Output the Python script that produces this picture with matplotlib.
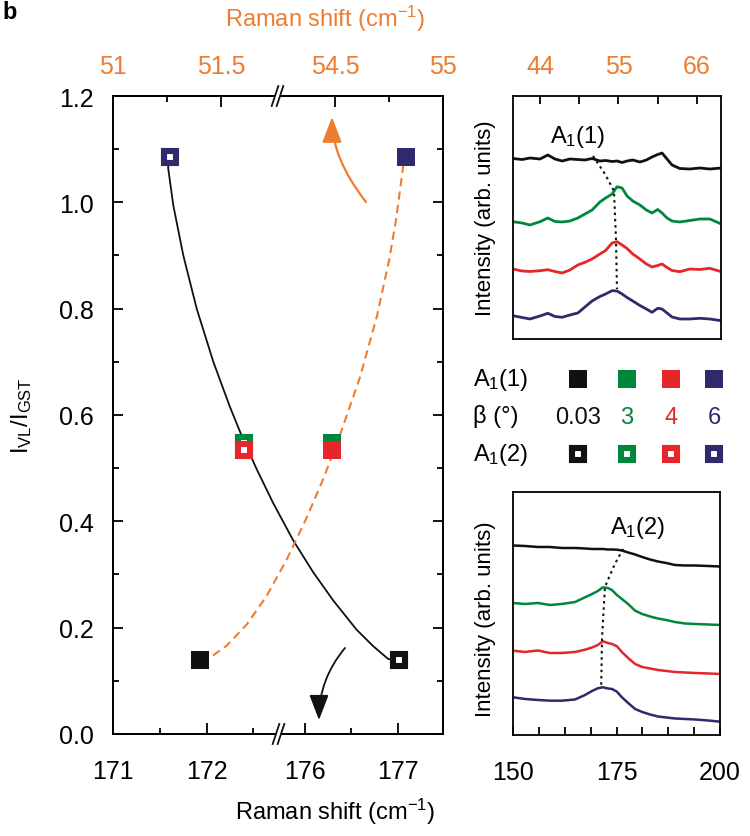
import numpy as np
import matplotlib
matplotlib.use('Agg')
import matplotlib.pyplot as plt
from matplotlib.ticker import FixedLocator, MultipleLocator
from matplotlib.patches import Polygon

plt.rcParams['font.family'] = ['Liberation Sans', 'DejaVu Sans']
plt.rcParams['mathtext.fontset'] = 'custom'
plt.rcParams['mathtext.rm'] = 'Liberation Sans'
plt.rcParams['mathtext.default'] = 'regular'
plt.rcParams['axes.linewidth'] = 1.3

FS = 17
TFS = 18  # tick labels
ORANGE = '#ee7d31'

# samples: tilt angle beta (deg) and colour used for it
beta = ['0.03', '3', '4', '6']
beta_colors = ['#111111', '#00873c', '#e5262a', '#2e2a6c']

# intensity ratio I_VL/I_GST per sample
ratio = [0.139, 0.547, 0.534, 1.086]
# peak positions (cm-1): A1(1) on the top axis, A1(2) on the bottom axis
a1_1_pos = [51.405, 54.486, 54.486, 54.829]
a1_2_pos = [177.005, 172.40, 172.40, 171.61]

# guide curves
guide_a1_2_x = [171.588, 171.591, 171.645, 171.752, 171.895, 172.073, 172.251, 172.376, 172.537,
                172.714, 175.878, 176.092, 176.306, 176.556, 176.734, 176.894, 177.005]
guide_a1_2_y = [1.082, 1.063, 0.994, 0.900, 0.800, 0.700, 0.615, 0.561, 0.498,
                0.434, 0.364, 0.304, 0.251, 0.196, 0.165, 0.141, 0.139]
guide_a1_1_x = [51.405, 51.450, 51.527, 51.620, 51.713, 54.275, 54.368, 54.445, 54.522,
                54.615, 54.693, 54.751, 54.782, 54.816, 54.828]
guide_a1_1_y = [0.139, 0.144, 0.166, 0.206, 0.260, 0.328, 0.407, 0.480, 0.562,
                0.671, 0.785, 0.893, 0.967, 1.070, 1.087]

# low-frequency spectra (A1(1) window), stacked, arb. units
low_shift = [40.2, 41.5, 42.6, 44.0, 45.1, 46.1, 47.1, 48.2, 49.3, 50.3, 51.3, 52.4, 53.2, 54.1, 54.8,
             55.5, 56.2, 57.0, 58.0, 58.9, 59.7, 60.5, 61.1, 61.8, 62.5, 63.6, 65.0, 66.4, 67.8, 69.4]
low_b003 = [18.05, 17.95, 18.1, 18.0, 18.4, 18.0, 17.8, 18.0, 17.95, 17.9, 18.05, 17.8, 17.85, 17.75, 17.8,
            17.65, 17.8, 17.9, 17.7, 17.9, 18.2, 18.45, 18.6, 18.0, 17.4, 17.05, 17.0, 17.1, 17.0, 17.1]
low_b3 = [11.73, 11.6, 11.4, 11.73, 12.1, 11.75, 11.7, 11.8, 12.1, 12.5, 12.9, 13.7, 14.1, 14.5, 15.23,
          15.1, 14.3, 13.8, 13.4, 12.9, 12.6, 12.95, 12.6, 12.1, 11.8, 11.7, 11.85, 12.0, 12.0, 11.5]
low_b4 = [7.0, 6.8, 6.75, 6.83, 6.93, 6.75, 6.6, 6.9, 7.4, 7.67, 8.0, 8.5, 8.85, 9.6, 9.73,
          9.4, 9.05, 8.5, 8.0, 7.5, 7.2, 7.35, 7.5, 7.15, 6.85, 6.73, 7.0, 6.95, 7.07, 6.73]
low_b6 = [2.33, 2.15, 2.0, 2.3, 2.57, 2.25, 2.17, 2.4, 2.6, 3.2, 3.8, 4.25, 4.5, 4.83, 4.8,
          4.5, 4.15, 3.8, 3.35, 3.0, 2.67, 3.07, 3.0, 2.6, 2.2, 2.0, 2.0, 2.07, 2.0, 1.83]
low_peak_x = [51.43, 53.11, 54.37, 54.65, 54.79]
low_peak_y = [18.3, 16.5, 14.8, 10.0, 5.0]

# high-frequency spectra (A1(2) window)
high_shift = [150.0, 152.9, 156.0, 158.9, 161.8, 165.0, 167.4, 169.1, 170.5, 171.7, 172.9, 173.9, 175.1,
              176.3, 177.8, 179.5, 181.2, 183.1, 185.0, 187.0, 189.1, 191.5, 194.0, 197.1, 200.0]
high_b003 = [18.95, 18.9, 18.8, 18.8, 18.7, 18.7, 18.65, 18.6, 18.6, 18.6, 18.55, 18.55, 18.53,
             18.45, 18.25, 18.05, 17.8, 17.55, 17.35, 17.2, 17.0, 16.95, 16.95, 16.9, 16.85]
high_b3 = [13.2, 13.1, 13.2, 13.0, 13.1, 13.3, 13.77, 14.1, 14.4, 14.77, 14.7, 14.5, 14.0,
           13.6, 13.1, 12.43, 12.1, 11.85, 11.65, 11.5, 11.3, 11.15, 11.1, 11.05, 11.0]
high_b4 = [8.43, 8.3, 8.45, 8.2, 8.2, 8.3, 8.53, 8.75, 9.0, 9.37, 9.2, 9.1, 8.87,
           8.3, 7.7, 7.1, 6.8, 6.65, 6.5, 6.4, 6.3, 6.25, 6.2, 6.15, 6.1]
high_b6 = [3.77, 3.6, 3.5, 3.43, 3.43, 3.55, 4.0, 4.4, 4.67, 4.77, 4.65, 4.6, 4.33,
           3.77, 3.2, 2.6, 2.3, 2.05, 1.85, 1.75, 1.65, 1.6, 1.55, 1.45, 1.33]
high_peak_x = [176.6, 174.6, 172.2, 171.5, 171.3]
high_peak_y = [18.6, 17.1, 14.8, 9.6, 4.8]


def broken(cut, gap):
    # piecewise linear scale that removes (cut, cut+gap) from the axis
    def fwd(x):
        x = np.asarray(x, float)
        return np.where(x <= cut, x, np.where(x >= cut + gap, x - gap, cut))

    def inv(y):
        y = np.asarray(y, float)
        return np.where(y <= cut, y, y + gap)
    return fwd, inv


fig = plt.figure(figsize=(7.5, 8.37), dpi=100)

# main panel
ax = fig.add_axes([0.1507, 0.1219, 0.44, 0.7622])
ax.set_xscale('function', functions=broken(172.77, 2.95))
ax.set_xlim(171, 177.48)
ax.set_ylim(0, 1.2)
ax.xaxis.set_major_locator(FixedLocator([171, 172, 176, 177]))
ax.xaxis.set_minor_locator(FixedLocator([171.5, 172.5, 176.5]))
ax.xaxis.set_major_formatter(plt.FuncFormatter(lambda v, p: '%d' % round(v)))
ax.xaxis.set_minor_formatter(plt.NullFormatter())
ax.yaxis.set_major_locator(MultipleLocator(0.2))
ax.yaxis.set_minor_locator(MultipleLocator(0.1))
ax.yaxis.set_major_formatter(plt.FuncFormatter(lambda v, p: '%.1f' % v))
ax.tick_params(axis='y', which='both', direction='in', left=True, right=True, labelsize=TFS, pad=14, width=1.3)
ax.tick_params(axis='y', which='major', length=7)
ax.tick_params(axis='y', which='minor', length=4)
ax.tick_params(axis='x', which='both', direction='in', top=False, labelsize=TFS, pad=18, width=1.3)
ax.tick_params(axis='x', which='major', length=8)
ax.tick_params(axis='x', which='minor', length=4)

ax_t = ax.twiny()
ax_t.set_xscale('function', functions=broken(51.76, 2.47))
ax_t.set_xlim(51, 55)
ax_t.xaxis.set_major_locator(FixedLocator([51, 51.5, 54.5, 55]))
ax_t.xaxis.set_minor_locator(FixedLocator([51.25, 54.75]))
ax_t.xaxis.set_major_formatter(plt.FuncFormatter(lambda v, p: ('%g' % round(v, 1))))
ax_t.xaxis.set_minor_formatter(plt.NullFormatter())
ax_t.tick_params(axis='x', which='both', direction='in', labelsize=TFS, pad=13,
                 labelcolor=ORANGE, width=1.3)
ax_t.tick_params(axis='x', which='major', length=8)
ax_t.tick_params(axis='x', which='minor', length=4)

ax.plot(guide_a1_2_x, guide_a1_2_y, color='#111111', lw=1.3, zorder=2)
ax_t.plot(guide_a1_1_x, guide_a1_1_y, color=ORANGE, lw=1.5, dashes=(4, 2.5), zorder=2)
for x1, x2, r, c in zip(a1_1_pos, a1_2_pos, ratio, beta_colors):
    ax.plot(x2, r, 's', ms=8.6, mfc='white', mec=c, mew=4.4, zorder=3)
    ax_t.plot(x1, r, 's', ms=13, color=c, mew=0, zorder=3)

# upper-right spectra
ax_u = fig.add_axes([0.684, 0.5938, 0.2773, 0.2903])
ax_u.set_xlim(40.22, 69.36)
ax_u.set_ylim(0, 24.3)
for ys, c in zip([low_b003, low_b3, low_b4, low_b6], beta_colors):
    ax_u.plot(low_shift, ys, color=c, lw=2.0)
ax_u.plot(low_peak_x, low_peak_y, color='#111111', lw=1.5, dashes=(1.2, 1.8))
ax_u.text(49.3, 20.3, 'A$_1$(1)', fontsize=FS, ha='center', va='center')
ax_u.xaxis.tick_top()
ax_u.xaxis.set_major_locator(FixedLocator([44, 55, 66]))
ax_u.xaxis.set_minor_locator(FixedLocator([49.5, 60.5]))
ax_u.tick_params(axis='x', which='both', direction='in', length=6, width=1.3, labelsize=TFS,
                 pad=13, labelcolor=ORANGE)
ax_u.set_yticks([])

# lower-right spectra
ax_l = fig.add_axes([0.684, 0.1207, 0.276, 0.2903])
ax_l.set_xlim(150, 200)
ax_l.set_ylim(0, 24.3)
for ys, c in zip([high_b003, high_b3, high_b4, high_b6], beta_colors):
    ax_l.plot(high_shift, ys, color=c, lw=1.8)
ax_l.plot(high_peak_x, high_peak_y, color='#111111', lw=1.5, dashes=(1.2, 1.8))
ax_l.text(180.2, 20.8, 'A$_1$(2)', fontsize=FS, ha='center', va='center')
ax_l.xaxis.set_major_locator(FixedLocator([150, 175, 200]))
ax_l.xaxis.set_minor_locator(MultipleLocator(6.25))
ax_l.tick_params(axis='x', which='both', direction='in', length=6, width=1.3, labelsize=TFS, pad=18)
ax_l.set_yticks([])

# overlay in pixel coordinates for labels, legend, arrows and break marks
ov = fig.add_axes([0, 0, 1, 1], zorder=10)
ov.set_xlim(0, 750)
ov.set_ylim(837, 0)
ov.axis('off')

ov.text(10, 12, 'b', fontsize=FS, fontweight='bold', ha='center', va='center')
ov.text(325, 19, 'Raman shift (cm$^{-1}$)', fontsize=FS, color=ORANGE, ha='center', va='center')
ov.text(335, 812, 'Raman shift (cm$^{-1}$)', fontsize=FS, ha='center', va='center')
ov.text(22, 416, 'I$_{VL}$/I$_{GST}$', fontsize=FS, rotation=90, ha='center', va='center')
ov.text(485, 218, 'Intensity (arb. units)', fontsize=FS - 1, rotation=90, ha='center', va='center')
ov.text(485, 619, 'Intensity (arb. units)', fontsize=FS - 1, rotation=90, ha='center', va='center')

# legend block
leg_x = [578, 627, 671, 714]
ov.text(473, 380, 'A$_1$(1)', fontsize=FS, ha='left', va='center')
ov.text(473, 417, 'β (°)', fontsize=FS, ha='left', va='center')
ov.text(473, 455, 'A$_1$(2)', fontsize=FS, ha='left', va='center')
for x, c, b in zip(leg_x, beta_colors, beta):
    ov.plot(x, 380, 's', ms=13, color=c, mew=0)
    ov.text(x, 418, b, color=c, fontsize=FS, ha='center', va='center')
    ov.plot(x, 455, 's', ms=8.6, mfc='white', mec=c, mew=4.4)

# arrows pointing to the relevant axis
ov.annotate('', xy=(332, 118), xytext=(366, 203),
            arrowprops=dict(arrowstyle='-|>,head_length=0.78,head_width=0.3', color=ORANGE,
                            lw=1.6, mutation_scale=20, shrinkA=0, shrinkB=0,
                            connectionstyle='angle3,angleA=128,angleB=90'))
ov.annotate('', xy=(319, 721), xytext=(345, 649),
            arrowprops=dict(arrowstyle='-|>,head_length=0.78,head_width=0.3', color='#111111',
                            lw=1.3, mutation_scale=20, shrinkA=0, shrinkB=0,
                            connectionstyle='angle3,angleA=50,angleB=90'))

# axis break marks
for bx, by in [(278.5, 735), (277.5, 97)]:
    s1 = [(bx - 5.8, by + 10), (bx + 0.8, by - 10)]
    s2 = [(bx - 0.8, by + 10), (bx + 5.8, by - 10)]
    ov.add_patch(Polygon([s1[0], s2[0], s2[1], s1[1]], closed=True, fc='white', ec='none'))
    for s in (s1, s2):
        ov.plot([s[0][0], s[1][0]], [s[0][1], s[1][1]], color='#111111', lw=1.3)

fig.savefig('out.png', dpi=100)
